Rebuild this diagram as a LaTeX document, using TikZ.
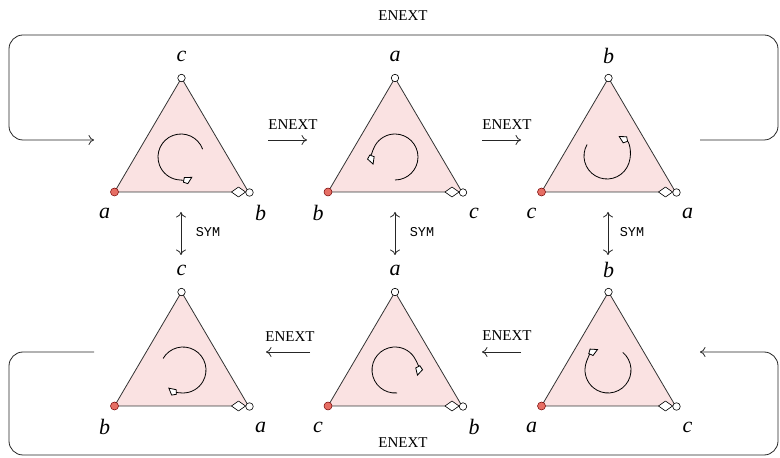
\documentclass[tikz,border=0pt]{standalone}
\usepackage{fontspec}
\setmainfont{Liberation Serif}
\setmonofont{Liberation Mono}
\usetikzlibrary{arrows.meta,calc}
\definecolor{trifill}{RGB}{250,226,226}
\definecolor{redpt}{RGB}{230,110,100}
\tikzset{
  tri/.style={fill=trifill, draw=black!80, line width=0.8pt, line join=round},
  whitev/.style={circle, draw=black, fill=white, inner sep=0pt, minimum size=7.5pt, line width=0.6pt},
  redv/.style={circle, draw=red!45!black, fill=redpt, inner sep=0pt, minimum size=8pt, line width=0.5pt},
  kitev/.style={fill=white, draw=black, line width=0.6pt, line join=round},
  vlab/.style={font=\fontsize{22}{24}\selectfont\itshape, inner sep=0pt},
  lab/.style={font=\fontsize{15}{17}\selectfont, inner sep=0pt},
  symlab/.style={font=\ttfamily\fontsize{13.5}{15}\selectfont, inner sep=0pt},
  conn/.style={line width=0.8pt, draw=black!85, -{To[length=5.5pt,width=10pt]}},
  dconn/.style={line width=0.8pt, draw=black!85, {To[length=5.5pt,width=10pt]}-{To[length=5.5pt,width=10pt]}},
  loop/.style={conn, rounded corners=14pt},
  rot/.style={line width=0.8pt, -{Kite[fill=white, length=11pt, width=8pt, inset=3.5pt]}}
}
% #1 name, #2 x centre, #3 bottom y, #4 top label, #5 left label, #6 right label
\newcommand\mytri[6]{%
  \coordinate (#1t) at (#2,#3+114);
  \coordinate (#1l) at (#2-67,#3);
  \coordinate (#1r) at (#2+67,#3);
  \filldraw[tri] (#1t) -- (#1l) -- (#1r) -- cycle;
  \draw[kitev] ($(#1r)+(-17,0)$) -- ($(#1r)+(-10,5)$) -- ($(#1r)+(-3,0)$) -- ($(#1r)+(-10,-5)$) -- cycle;
  \node[whitev] (#1tv) at (#1t) {};
  \node[redv] (#1lv) at (#1l) {};
  \node[whitev] (#1rv) at ($(#1r)+(1,-0.5)$) {};
  \node[vlab] (#1tl) at ($(#1t)+(0,22)$) {#4};
  \node[vlab] (#1ll) at ($(#1l)+(-10,-21)$) {#5};
  \node[vlab] (#1rl) at ($(#1r)+(12,-21)$) {#6};
}
\begin{document}
\begin{tikzpicture}[x=1pt,y=1pt]
\useasboundingbox (0,0) rectangle (780,458);
% top row
\mytri{A}{181.5}{266}{c}{a}{b}
\mytri{B}{395}{266}{a}{b}{c}
\mytri{C}{608.5}{266}{b}{c}{a}
% bottom row
\mytri{D}{181.5}{52}{c}{b}{a}
\mytri{E}{395}{52}{a}{c}{b}
\mytri{F}{608.5}{52}{b}{a}{c}
% rotation arrows (top: counter-clockwise, bottom: clockwise)
\draw[rot] (181,301) ++(20:23) arc[start angle=20, end angle=300, radius=23];
\draw[rot] (395,301) ++(-90:23) arc[start angle=-90, end angle=200, radius=23];
\draw[rot] (607,302) ++(150:23) arc[start angle=150, end angle=420, radius=23];
\draw[rot] (183,88) ++(150:23) arc[start angle=150, end angle=-130, radius=23];
\draw[rot] (395,88) ++(-85:23) arc[start angle=275, end angle=-15, radius=23];
\draw[rot] (608,88) ++(50:23) arc[start angle=50, end angle=-245, radius=23];
% ENEXT arrows top row
\coordinate (e1s) at (268,318); \coordinate (e1e) at (307,318);
\coordinate (e2s) at (482,318); \coordinate (e2e) at (521,318);
\draw[conn] (e1s) -- (e1e);
\draw[conn] (e2s) -- (e2e);
\node[lab] (n1) at (293,333) {ENEXT};
\node[lab] (n2) at (507,333) {ENEXT};
% ENEXT arrows bottom row
\coordinate (e3s) at (310,106); \coordinate (e3e) at (266,106);
\coordinate (e4s) at (521,106); \coordinate (e4e) at (482,106);
\draw[conn] (e3s) -- (e3e);
\draw[conn] (e4s) -- (e4e);
\node[lab] (n3) at (290,121) {ENEXT};
\node[lab] (n4) at (507,122) {ENEXT};
% SYM arrows
\coordinate (s1a) at (181,246); \coordinate (s1b) at (181,203);
\coordinate (s2a) at (395,246); \coordinate (s2b) at (395,203);
\coordinate (s3a) at (608,246); \coordinate (s3b) at (608,203);
\draw[dconn] (s1a) -- (s1b);
\draw[dconn] (s2a) -- (s2b);
\draw[dconn] (s3a) -- (s3b);
\node[symlab] (y1) at (208,226) {SYM};
\node[symlab] (y2) at (422,226) {SYM};
\node[symlab] (y3) at (632,226) {SYM};
% outer loops
\coordinate (ta) at (700,318); \coordinate (tb) at (94,318);
\draw[loop] (ta) -- (778,318) -- (778,423) -- (9,423) -- (9,318) -- (tb);
\node[lab] (n5) at (403,442) {ENEXT};
\coordinate (ba) at (94,106); \coordinate (bb) at (700,106);
\draw[loop] (ba) -- (9,106) -- (9,3) -- (778,3) -- (778,106) -- (bb);
\node[lab] (n6) at (403,15) {ENEXT};
\end{tikzpicture}
\end{document}
